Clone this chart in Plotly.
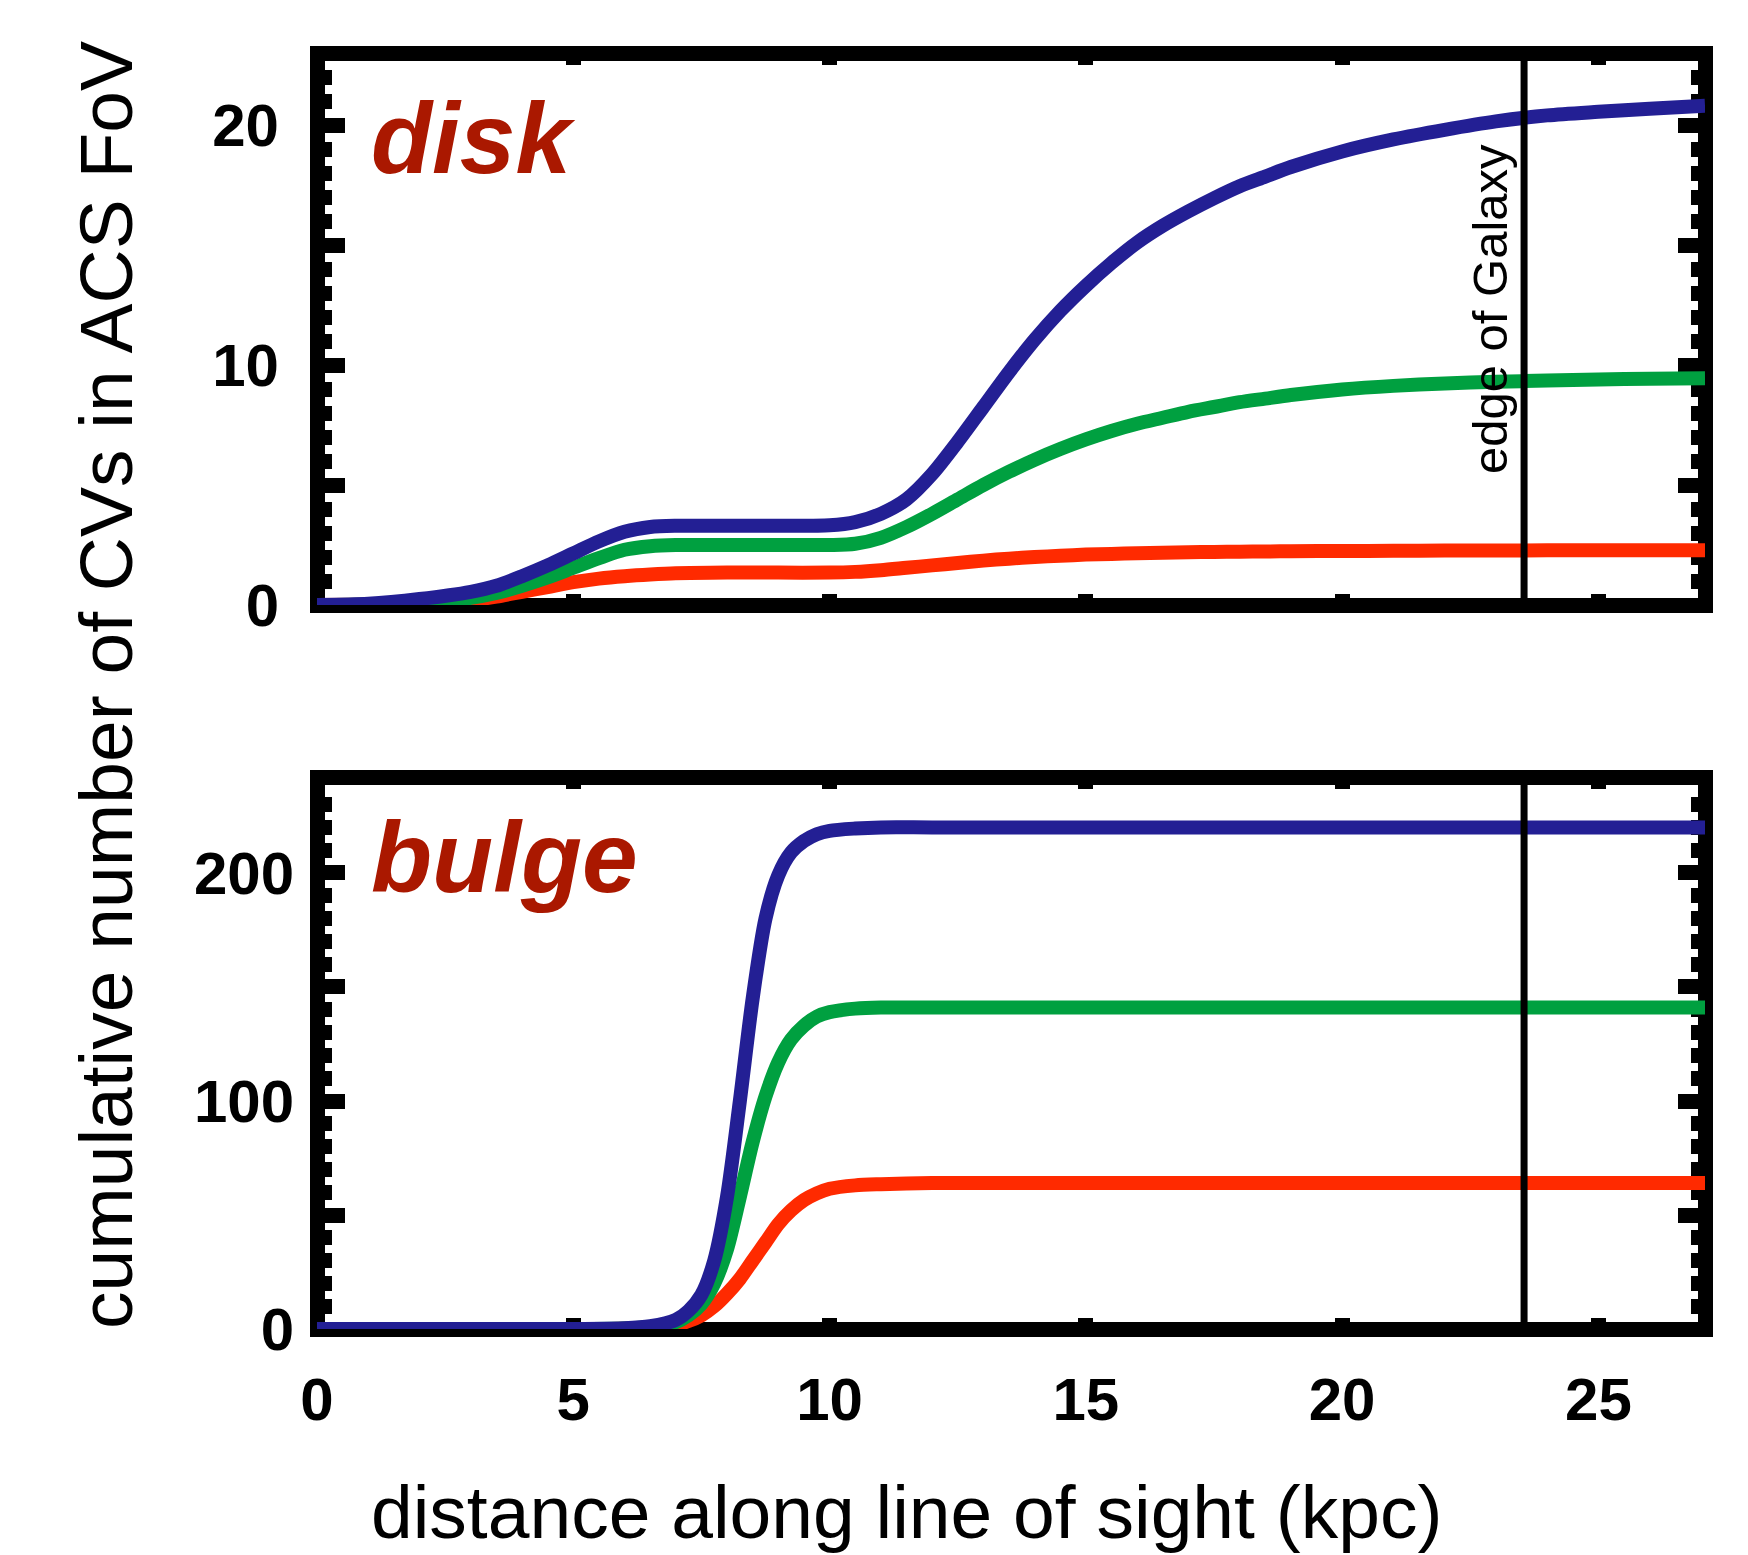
import plotly.graph_objects as go

# ---------------- data ----------------
dist_disk = [0, 1, 2, 3, 3.5, 4, 4.5, 5, 5.5, 6, 6.5, 7, 8, 9, 10, 10.5, 11, 11.5, 12,
             12.5, 13, 13.5, 14, 14.5, 15, 15.5, 16, 16.5, 17, 17.5, 18, 18.5, 19, 20,
             21, 22, 23, 24, 25, 26, 27.08]
disk_blue = [0, 0.05, 0.25, 0.55, 0.8, 1.2, 1.65, 2.15, 2.65, 3.05, 3.25, 3.3, 3.3, 3.3,
             3.32, 3.45, 3.8, 4.4, 5.45, 6.8, 8.25, 9.7, 11.05, 12.25, 13.3, 14.25, 15.1,
             15.8, 16.4, 16.95, 17.45, 17.85, 18.25, 18.9, 19.4, 19.8, 20.15, 20.4, 20.55,
             20.68, 20.8]
disk_green = [0, 0.02, 0.1, 0.3, 0.5, 0.8, 1.15, 1.55, 1.95, 2.3, 2.45, 2.5, 2.5, 2.5,
              2.5, 2.55, 2.8, 3.25, 3.8, 4.4, 5.0, 5.55, 6.05, 6.5, 6.9, 7.25, 7.55,
              7.8, 8.05, 8.25, 8.45, 8.6, 8.75, 8.98, 9.13, 9.23, 9.3, 9.35, 9.4, 9.43,
              9.45]
disk_red = [0, 0.01, 0.05, 0.2, 0.35, 0.55, 0.75, 0.95, 1.1, 1.2, 1.27, 1.32, 1.35, 1.35,
            1.35, 1.38, 1.45, 1.55, 1.65, 1.75, 1.85, 1.93, 2.0, 2.05, 2.1, 2.13, 2.16,
            2.18, 2.2, 2.21, 2.22, 2.23, 2.24, 2.25, 2.26, 2.27, 2.27, 2.28, 2.28, 2.28,
            2.28]

dist_bulge = [0, 5, 6, 6.5, 7, 7.25, 7.5, 7.75, 8, 8.25, 8.5, 8.75, 9, 9.25, 9.5, 9.75,
              10, 10.5, 11, 12, 15, 20, 25, 27.08]
bulge_blue = [0, 0, 0.3, 1.2, 4, 8, 15, 30, 58, 100, 145, 180, 199, 209, 214, 217,
              218.5, 219.5, 220, 220, 220, 220, 220, 220]
bulge_green = [0, 0, 0.2, 0.9, 3, 6, 11, 20, 35, 58, 82, 102, 117, 127, 133, 137,
               139, 140.5, 141, 141, 141, 141, 141, 141]
bulge_red = [0, 0, 0.1, 0.5, 1.8, 3.5, 6, 10, 15.5, 22, 30, 38, 46, 52, 56.5, 59.5,
             61.5, 63, 63.5, 64, 64, 64, 64, 64]

x_ticks = [0, 5, 10, 15, 20, 25]
x_ticklabels = ["0", "5", "10", "15", "20", "25"]
disk_yticks = [0, 5, 10, 15, 20]
disk_ylabels = ["0", "", "10", "", "20"]
bulge_yticks = [0, 50, 100, 150, 200]
bulge_ylabels = ["0", "", "100", "", "200"]
edge_kpc = 23.55
panel_names = ["disk", "bulge"]
edge_label = "edge of Galaxy"
x_title = "distance along line of sight (kpc)"
y_title = "cumulative number of CVs in ACS FoV"

XMAX = 27.08
DISK_YMAX = 23.0
BULGE_YMAX = 242.1

# ---------------- styling / geometry ----------------
W, H = 1748, 1555
L, R = 317, 1705            # frame centre lines (px)
T1, B1 = 53, 605            # disk panel
T2, B2 = 777, 1329          # bulge panel
LW = 15                     # frame width
HALF = LW / 2
FONT = "Liberation Sans, Arial, Helvetica, sans-serif"
BLUE, GREEN, RED = "#231F94", "#00A040", "#FF2A00"
LABEL_RED = "#AA1800"
CURVE_W = 14


def dx(p0, p1):
    return [p0 / W, p1 / W]


def dy(top, bottom):
    return [1 - bottom / H, 1 - top / H]


ppu_x = (R - L) / XMAX
ppu_y1 = (B1 - T1) / DISK_YMAX
ppu_y2 = (B2 - T2) / BULGE_YMAX

fig = go.Figure()

# empty traces to instantiate the frame subplots
fig.add_trace(go.Scatter(x=[], y=[], xaxis="x", yaxis="y", showlegend=False))
fig.add_trace(go.Scatter(x=[], y=[], xaxis="x2", yaxis="y2", showlegend=False))

# curves (on outer subplots so they may cover the frame like the original)
for ys, col in [(disk_red, RED), (disk_green, GREEN), (disk_blue, BLUE)]:
    fig.add_trace(go.Scatter(x=dist_disk, y=ys, mode="lines", xaxis="x3", yaxis="y3",
                             line=dict(color=col, width=CURVE_W, shape="spline", smoothing=0.8),
                             showlegend=False, hoverinfo="skip"))
for ys, col in [(bulge_red, RED), (bulge_green, GREEN), (bulge_blue, BLUE)]:
    fig.add_trace(go.Scatter(x=dist_bulge, y=ys, mode="lines", xaxis="x4", yaxis="y4",
                             line=dict(color=col, width=CURVE_W, shape="spline", smoothing=0.8),
                             showlegend=False, hoverinfo="skip"))

frame = dict(showline=True, linewidth=LW, linecolor="black", mirror="ticks",
             ticks="inside", tickcolor="black", showgrid=False, zeroline=False,
             showticklabels=False, fixedrange=True, tickmode="array", automargin=False)
label_ax = dict(showline=False, ticks="", showgrid=False, zeroline=False,
                fixedrange=True, tickmode="array", automargin=False)
tickfont = dict(family=FONT, size=60, color="black", weight="bold")

xr = [HALF / ppu_x, XMAX - HALF / ppu_x]
fig.update_layout(
    width=W, height=H, margin=dict(l=0, r=0, t=0, b=0, autoexpand=False),
    paper_bgcolor="white", plot_bgcolor="rgba(0,0,0,0)",
    # frames with ticks
    xaxis=dict(domain=dx(L + HALF, R - HALF), range=xr, anchor="y",
               tickvals=x_ticks, ticklen=4, tickwidth=15, **frame),
    yaxis=dict(domain=dy(T1 + HALF, B1 - HALF), anchor="x",
               range=[HALF / ppu_y1, DISK_YMAX - HALF / ppu_y1],
               tickvals=disk_yticks, ticklen=20, tickwidth=15,
               minor=dict(dtick=1, tick0=0, ticklen=7, tickwidth=15, ticks="inside",
                          tickcolor="black"),
               **frame),
    xaxis2=dict(domain=dx(L + HALF, R - HALF), range=xr, anchor="y2",
                tickvals=x_ticks, ticklen=4, tickwidth=15, **frame),
    yaxis2=dict(domain=dy(T2 + HALF, B2 - HALF), anchor="x2",
                range=[HALF / ppu_y2, BULGE_YMAX - HALF / ppu_y2],
                tickvals=bulge_yticks, ticklen=20, tickwidth=15,
                minor=dict(dtick=10, tick0=0, ticklen=7, tickwidth=15, ticks="inside",
                           tickcolor="black"),
                **frame),
    # data axes (carry the curves and the tick labels)
    xaxis3=dict(domain=dx(L, R), range=[0, XMAX], anchor="y3", showticklabels=False,
                tickvals=x_ticks, **label_ax),
    yaxis3=dict(domain=dy(T1, B1), range=[0, DISK_YMAX], anchor="x3",
                tickvals=disk_yticks, ticktext=disk_ylabels, tickfont=tickfont,
                ticklabelstandoff=37, **label_ax),
    xaxis4=dict(domain=dx(L, R), range=[0, XMAX], anchor="y4",
                tickvals=x_ticks, ticktext=x_ticklabels, tickfont=tickfont,
                ticklabelstandoff=30, **label_ax),
    yaxis4=dict(domain=dy(T2, B2), range=[0, BULGE_YMAX], anchor="x4",
                tickvals=bulge_yticks, ticktext=bulge_ylabels, tickfont=tickfont,
                ticklabelstandoff=22, **label_ax),
)

# edge-of-Galaxy lines
for xa, ya in [("x3", "y3"), ("x4", "y4")]:
    fig.add_shape(type="line", xref=xa, yref=ya + " domain", x0=edge_kpc, x1=edge_kpc,
                  y0=0, y1=1, line=dict(color="black", width=7), layer="above")

# annotations
fig.add_annotation(text=edge_label, xref="paper", yref="paper", x=1490 / W, y=1 - 309 / H,
                   textangle=-90, showarrow=False, xanchor="center", yanchor="middle",
                   font=dict(family=FONT, size=49, color="black"))
fig.add_annotation(text=panel_names[0], xref="paper", yref="paper", x=369 / W, y=1 - 138 / H,
                   showarrow=False, xanchor="left", yanchor="middle",
                   font=dict(family=FONT, size=100, color=LABEL_RED, weight="bold", style="italic"))
fig.add_annotation(text=panel_names[1], xref="paper", yref="paper", x=369 / W, y=1 - 857 / H,
                   showarrow=False, xanchor="left", yanchor="middle",
                   font=dict(family=FONT, size=100, color=LABEL_RED, weight="bold", style="italic"))
fig.add_annotation(text=y_title, xref="paper", yref="paper", x=106 / W, y=1 - 685 / H,
                   textangle=-90, showarrow=False, xanchor="center", yanchor="middle",
                   font=dict(family=FONT, size=75, color="black"))
fig.add_annotation(text=x_title, xref="paper", yref="paper", x=906 / W, y=1 - 1512 / H,
                   showarrow=False, xanchor="center", yanchor="middle",
                   font=dict(family=FONT, size=75, color="black"))

fig.write_html("out.html")
